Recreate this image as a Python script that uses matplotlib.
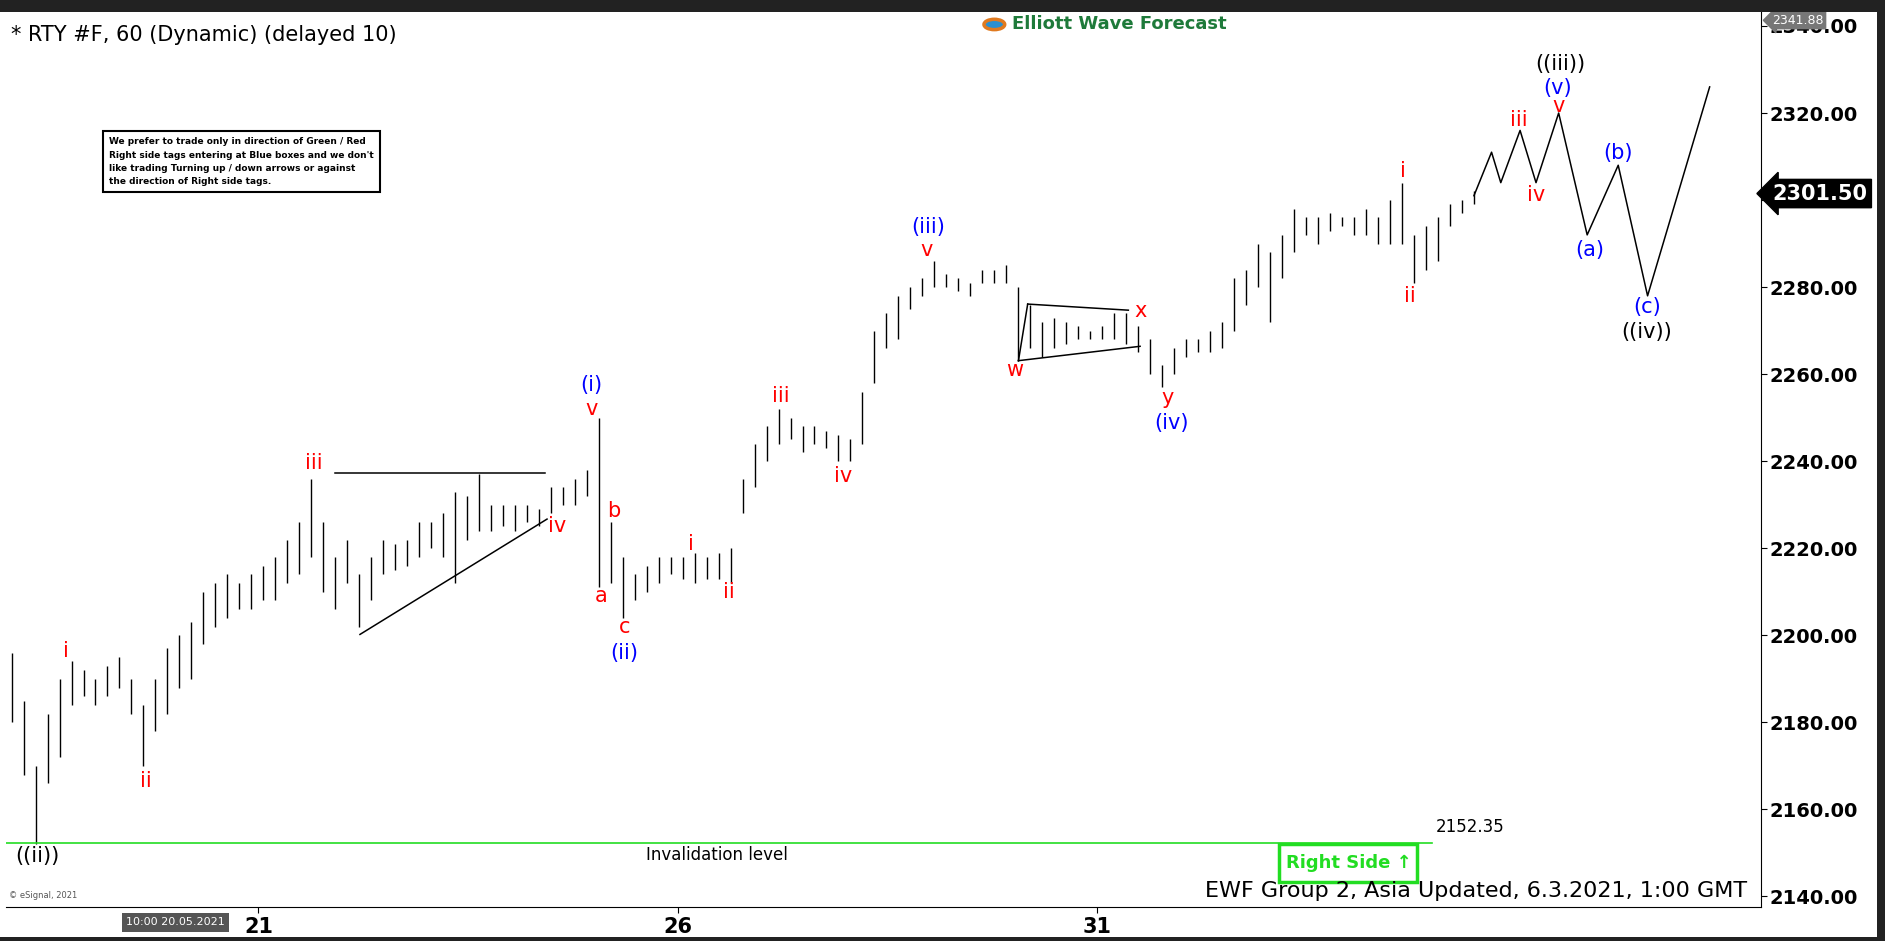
import numpy as np
import matplotlib.pyplot as plt
from matplotlib.patches import Rectangle, Circle

# hourly-ish bars (high / low)
highs = [2196, 2185, 2170, 2182, 2190, 2194, 2192, 2190, 2193, 2195,
         2190, 2184, 2190, 2197, 2200, 2203, 2210, 2212, 2214, 2212,
         2214, 2216, 2218, 2222, 2226, 2236, 2226, 2218, 2222, 2214,
         2218, 2222, 2221, 2222, 2226, 2226, 2228, 2233, 2232, 2237,
         2230, 2230, 2230, 2230, 2229, 2234, 2234, 2236, 2238, 2250,
         2226, 2218, 2214, 2216, 2218, 2218, 2218, 2219, 2218, 2219,
         2220, 2236, 2244, 2248, 2252, 2250, 2248, 2248, 2247, 2246,
         2245, 2256, 2270, 2274, 2278, 2280, 2282, 2286, 2283, 2282,
         2281, 2284, 2284, 2285, 2280, 2276, 2272, 2273, 2272, 2271,
         2270, 2271, 2274, 2274, 2271, 2268, 2262, 2266, 2268, 2268,
         2270, 2272, 2282, 2284, 2290, 2288, 2292, 2298, 2296, 2296,
         2297, 2296, 2296, 2298, 2296, 2300, 2304, 2292, 2294, 2296,
         2299, 2300, 2302]
lows = [2180, 2168, 2152, 2166, 2172, 2184, 2186, 2184, 2186, 2188,
        2182, 2170, 2178, 2182, 2188, 2190, 2198, 2202, 2204, 2206,
        2206, 2208, 2208, 2212, 2214, 2218, 2210, 2206, 2212, 2202,
        2208, 2214, 2215, 2216, 2218, 2220, 2218, 2212, 2222, 2224,
        2224, 2225, 2224, 2226, 2225, 2228, 2230, 2230, 2232, 2211,
        2212, 2204, 2208, 2210, 2212, 2214, 2213, 2212, 2213, 2213,
        2212, 2228, 2234, 2240, 2244, 2245, 2242, 2244, 2243, 2240,
        2240, 2244, 2258, 2266, 2268, 2275, 2278, 2280, 2280, 2279,
        2278, 2281, 2281, 2281, 2263, 2266, 2264, 2266, 2267, 2268,
        2268, 2268, 2268, 2267, 2265, 2260, 2257, 2260, 2264, 2265,
        2265, 2266, 2270, 2276, 2280, 2272, 2282, 2288, 2292, 2290,
        2293, 2294, 2292, 2292, 2290, 2290, 2290, 2281, 2284, 2286,
        2294, 2297, 2299]
bar_start = 18.057      # day of month of first bar
bar_step = 1 / 7.0      # days between bars

# projected path
proj_x = [35.49, 35.70, 35.81, 36.04, 36.23, 36.50, 36.84, 37.21, 37.56, 38.30]
proj_y = [2301, 2311, 2304, 2316, 2304, 2320, 2292, 2308, 2278, 2326]

# wave labels: text, day, price, colour
labels = [
    ("((ii))", 18.37, 2149.4, "black"), ("i", 18.70, 2196.3, "red"),
    ("ii", 19.66, 2166.5, "red"), ("iii", 21.66, 2239.7, "red"),
    ("iv", 24.56, 2225.0, "red"), ("v", 24.97, 2252.0, "red"),
    ("(i)", 24.97, 2257.5, "blue"), ("a", 25.09, 2209.0, "red"),
    ("b", 25.24, 2228.6, "red"), ("c", 25.37, 2201.8, "red"),
    ("(ii)", 25.36, 2196.0, "blue"), ("i", 26.16, 2220.9, "red"),
    ("ii", 26.61, 2210.0, "red"), ("iii", 27.23, 2255.0, "red"),
    ("iv", 27.97, 2236.6, "red"), ("v", 28.97, 2288.5, "red"),
    ("(iii)", 28.98, 2293.8, "blue"), ("w", 30.01, 2261.0, "red"),
    ("x", 31.51, 2274.4, "red"), ("y", 31.84, 2254.6, "red"),
    ("(iv)", 31.89, 2248.8, "blue"), ("i", 34.64, 2306.7, "red"),
    ("ii", 34.73, 2278.0, "red"), ("iii", 36.03, 2318.3, "red"),
    ("iv", 36.23, 2301.2, "red"), ("v", 36.50, 2321.7, "red"),
    ("(v)", 36.49, 2325.8, "blue"), ("((iii))", 36.52, 2331.3, "black"),
    ("(a)", 36.87, 2288.5, "blue"), ("(b)", 37.21, 2310.9, "blue"),
    ("(c)", 37.56, 2275.5, "blue"), ("((iv))", 37.55, 2269.8, "black"),
]

# trend lines (x0, x1, y0, y1)
trend_lines = [
    (21.91, 24.41, 2237.2, 2237.2),
    (22.21, 24.44, 2200.2, 2226.7),
    (30.17, 31.37, 2276.1, 2274.7),
    (30.06, 31.51, 2263.1, 2266.4),
    (30.17, 30.06, 2276.1, 2263.1),
]

invalidation = 2152.35
last_price = 2301.50
yticks = [2140, 2160, 2180, 2200, 2220, 2240, 2260, 2280, 2300, 2320, 2340]
xticks = [21, 26, 31]

fig = plt.figure(figsize=(18.85, 9.41), dpi=100)
fig.patch.set_facecolor("white")
ax = fig.add_axes([0.003, 0.0358, 0.9313, 0.9514])
ax.set_xlim(17.986, 38.914)
ax.set_ylim(2137.5, 2343.2)

bar_x = bar_start + bar_step * np.arange(len(highs))
ax.vlines(bar_x, lows, highs, color="black", lw=1.0)
ax.plot(proj_x, proj_y, color="black", lw=1.1)
for x0, x1, y0, y1 in trend_lines:
    ax.plot([x0, x1], [y0, y1], color="black", lw=1.1)

for txt, x, y, c in labels:
    ax.text(x, y, txt, color=c, fontsize=15, ha="center", va="center")

ax.plot([17.986, 34.99], [invalidation, invalidation], color="#22dd22", lw=1.2)
ax.text(35.03, invalidation + 1.5, f"{invalidation:.2f}", fontsize=12, va="bottom")
ax.text(26.46, invalidation - 2.8, "Invalidation level", fontsize=12, ha="center", va="center")

# right side box
ax.add_patch(Rectangle((0.7255, 0.028), 0.0785, 0.043, transform=ax.transAxes,
                       fill=False, ec="#22dd22", lw=2.5))
ax.text(0.765, 0.049, "Right Side ↑", transform=ax.transAxes, color="#22dd22",
        fontsize=13, fontweight="bold", ha="center", va="center")
ax.text(0.992, 0.018, "EWF Group 2, Asia Updated, 6.3.2021, 1:00 GMT",
        transform=ax.transAxes, fontsize=16, ha="right", va="center")
ax.text(0.002, 0.01, "© eSignal, 2021", transform=ax.transAxes, fontsize=6, color="#555555")

ax.text(0.003, 0.985, "* RTY #F, 60 (Dynamic) (delayed 10)", transform=ax.transAxes,
        fontsize=15, va="top")

# notice box
ax.text(0.059, 0.86, "We prefer to trade only in direction of Green / Red\n"
        "Right side tags entering at Blue boxes and we don't\n"
        "like trading Turning up / down arrows or against\n"
        "the direction of Right side tags.",
        transform=ax.transAxes, fontsize=6.5, fontweight="bold", va="top",
        linespacing=1.6,
        bbox=dict(boxstyle="square,pad=0.7", fc="white", ec="black", lw=1.5))

# logo
fig.text(0.537, 0.974, "Elliott Wave Forecast", fontsize=13, fontweight="bold",
         color="#1e7a3a", ha="left", va="center")
fig.patches.append(Circle((0.5275, 0.974), 0.0055, transform=fig.transFigure,
                          fc="#2a8fd0", ec="#e07a20", lw=2.5))

# axes styling
for s in ["top", "left"]:
    ax.spines[s].set_visible(False)
ax.spines["right"].set_color("black")
ax.spines["bottom"].set_color("black")
ax.yaxis.tick_right()
ax.set_yticks(yticks)
ax.set_yticklabels([f"{v:.2f}" for v in yticks], fontsize=14, fontweight="bold")
ax.set_xticks(xticks)
ax.set_xticklabels([str(v) for v in xticks], fontsize=15, fontweight="bold")
ax.tick_params(axis="y", length=4, pad=2)
ax.tick_params(axis="x", length=4, pad=3)

# price tags on the axis
ax.annotate(f"{last_price:.2f}", xy=(1.0, last_price), xycoords=("axes fraction", "data"),
            xytext=(8, 0), textcoords="offset points", fontsize=15, fontweight="bold",
            color="white", va="center",
            bbox=dict(boxstyle="larrow,pad=0.2", fc="black", ec="black"),
            annotation_clip=False)
ax.annotate("2341.88", xy=(1.0, 2341.3), xycoords=("axes fraction", "data"),
            xytext=(8, 0), textcoords="offset points", fontsize=9, color="white",
            va="center", bbox=dict(boxstyle="larrow,pad=0.15", fc="#777777", ec="#777777"),
            annotation_clip=False)
fig.text(0.067, 0.02, "10:00 20.05.2021", fontsize=8, color="white", va="center",
         bbox=dict(boxstyle="square,pad=0.4", fc="#555555", ec="none"))

# dark frame
fig.patches.append(Rectangle((0, 0.987), 1, 0.013, transform=fig.transFigure,
                             fc="#222222", ec="none"))
fig.patches.append(Rectangle((0, 0), 1, 0.004, transform=fig.transFigure,
                             fc="#222222", ec="none"))
fig.patches.append(Rectangle((0.996, 0), 0.004, 1, transform=fig.transFigure,
                             fc="#222222", ec="none"))

fig.savefig("out.png", dpi=100)
